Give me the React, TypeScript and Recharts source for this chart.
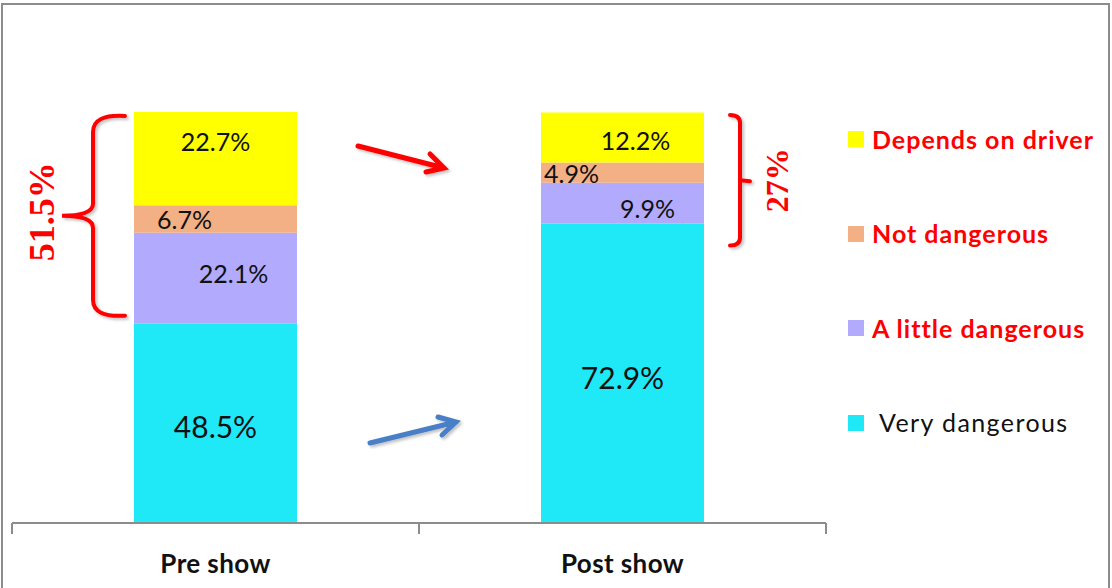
import { BarChart, Bar, XAxis, YAxis, Legend, LabelList } from "recharts";

const WIDTH = 1112;
const HEIGHT = 588;
const AXIS_HEIGHT = 30;
const MARGIN = { top: 112, right: 286, bottom: 35, left: 12 };

const stages = ["Pre show", "Post show"];
const veryDangerous = [48.5, 72.9];
const littleDangerous = [22.1, 9.9];
const notDangerous = [6.7, 4.9];
const dependsOnDriver = [22.7, 12.2];
const bracketTotals = ["51.5%", "27%"];

const series = [
  { key: "very", name: "Very dangerous", color: "#1fe8f7", values: veryDangerous, loud: false, size: 30 },
  { key: "little", name: "A little dangerous", color: "#b2aafc", values: littleDangerous, loud: true, size: 25 },
  { key: "not", name: "Not dangerous", color: "#f2b084", values: notDangerous, loud: true, size: 25 },
  { key: "depends", name: "Depends on driver", color: "#ffff00", values: dependsOnDriver, loud: true, size: 25 },
];

// small nudges so labels sit where they were placed by hand
const labelNudge: Record<string, [number, number][]> = {
  very: [[0, 3], [0, 4]],
  little: [[18, -5], [25, 5]],
  not: [[-31, 0], [-51, 0]],
  depends: [[0, -18], [13, 3]],
};

const data = stages.map((stage, i) => {
  const row: Record<string, string | number> = { stage };
  series.forEach((s) => (row[s.key] = s.values[i]));
  return row;
});

const plotWidth = WIDTH - MARGIN.left - MARGIN.right;
const plotHeight = HEIGHT - MARGIN.top - MARGIN.bottom - AXIS_HEIGHT;
const band = plotWidth / stages.length;
const yPx = (v: number) => MARGIN.top + plotHeight * (1 - v / 100);

const font = "Lato, 'Open Sans', sans-serif";

function makeLabel(key: string, size: number) {
  return (props: any) => {
    const { x, y, width, height, value, index } = props;
    const [dx, dy] = labelNudge[key][index] || [0, 0];
    return (
      <text
        x={Number(x) + Number(width) / 2 + dx}
        y={Number(y) + Number(height) / 2 + dy}
        textAnchor="middle"
        dominantBaseline="central"
        fontFamily={font}
        fontSize={size}
        fill="#111"
      >
        {`${value}%`}
      </text>
    );
  };
}

function StageTick(props: any) {
  const { x, y, payload, index } = props;
  const left = x - band / 2;
  return (
    <g>
      <line x1={left} y1={y} x2={left} y2={y + 11} stroke="#8c8c8c" strokeWidth={2} />
      {index === stages.length - 1 && (
        <line x1={x + band / 2} y1={y} x2={x + band / 2} y2={y + 11} stroke="#8c8c8c" strokeWidth={2} />
      )}
      <text
        x={x}
        y={y + 40}
        textAnchor="middle"
        dominantBaseline="central"
        fontFamily={font}
        fontWeight={700}
        fontSize={26}
        letterSpacing={0.4}
        fill="#111"
      >
        {payload.value}
      </text>
    </g>
  );
}

function LegendBlock() {
  const rows = [...series].reverse();
  return (
    <div style={{ display: "flex", flexDirection: "column" }}>
      {rows.map((s) => (
        <div key={s.key} style={{ height: 94.5, display: "flex", alignItems: "center" }}>
          <span style={{ width: 16, height: 16, background: s.color, marginRight: s.loud ? 8 : 15 }} />
          <span
            style={{
              fontFamily: font,
              fontSize: 25,
              letterSpacing: s.loud ? 1 : 1.4,
              fontWeight: s.loud ? 700 : 400,
              color: s.loud ? "#ff0000" : "#111",
              lineHeight: 1,
            }}
          >
            {s.name}
          </span>
        </div>
      ))}
    </div>
  );
}

function Annotations() {
  const leftTop = yPx(100) + 4;
  const leftBot = yPx(veryDangerous[0]) - 8;
  const leftMid = (leftTop + leftBot) / 2;
  const rightTop = yPx(100) + 3;
  const rightBot = yPx(veryDangerous[1]) + 22;
  const rightMid = (rightTop + rightBot) / 2;
  return (
    <svg
      width={WIDTH}
      height={HEIGHT}
      style={{ position: "absolute", left: 0, top: 0, pointerEvents: "none" }}
    >
      <defs>
        <filter id="soft" x="-20%" y="-20%" width="140%" height="140%">
          <feDropShadow dx="2" dy="2" stdDeviation="1.5" floodColor="#000" floodOpacity="0.25" />
        </filter>
      </defs>
      <g fill="none" stroke="#ff0000" strokeWidth={4} strokeLinecap="round" filter="url(#soft)">
        <path
          d={`M125,${leftTop} Q93,${leftTop - 2} 93,${leftTop + 16} L93,${leftMid - 12} Q93,${leftMid} 62,${leftMid}
              Q93,${leftMid} 93,${leftMid + 12} L93,${leftBot - 16} Q93,${leftBot + 2} 125,${leftBot}`}
        />
        <path
          d={`M730,${rightTop} Q740,${rightTop} 740,${rightTop + 8} L740,${rightBot - 8} Q740,${rightBot} 730,${rightBot}
              M740,${rightMid} L750,${rightMid + 1}`}
        />
        <path d="M358,146 L444,168 M430,154 L444,168 L426,172" strokeWidth={5} />
      </g>
      <g fill="none" stroke="#4a7fc6" strokeWidth={5} strokeLinecap="round" filter="url(#soft)">
        <path d="M370,443 L456,422 M438,417 L456,422 L442,435" />
      </g>
      <text
        transform={`translate(42, ${leftMid - 4}) rotate(-90)`}
        textAnchor="middle"
        dominantBaseline="central"
        fontFamily="'Liberation Serif', 'DejaVu Serif', serif"
        fontWeight={700}
        fontSize={36}
        fill="#ff0000"
      >
        {bracketTotals[0]}
      </text>
      <text
        transform={`translate(777, ${rightMid}) rotate(-90)`}
        textAnchor="middle"
        dominantBaseline="central"
        fontFamily="'Liberation Serif', 'DejaVu Serif', serif"
        fontWeight={700}
        fontSize={32}
        fill="#ff0000"
      >
        {bracketTotals[1]}
      </text>
    </svg>
  );
}

export default function App() {
  return (
    <div style={{ position: "absolute", left: 0, top: 0, width: WIDTH, height: HEIGHT, overflow: "hidden", background: "#fff" }}>
      <div
        style={{
          position: "absolute",
          left: 1,
          top: 3,
          width: WIDTH - 3,
          height: HEIGHT + 20,
          border: "2px solid #8c8c8c",
          boxSizing: "border-box",
        }}
      />
      <div style={{ position: "absolute", left: 0, top: 0 }}>
        <BarChart width={WIDTH} height={HEIGHT} data={data} margin={MARGIN} barSize={163}>
          <YAxis hide domain={[0, 100]} />
          <XAxis
            dataKey="stage"
            height={AXIS_HEIGHT}
            axisLine={{ stroke: "#8c8c8c", strokeWidth: 2 }}
            tickLine={false}
            tickSize={0}
            tickMargin={0}
            tick={<StageTick />}
            interval={0}
          />
          <Legend
            layout="horizontal"
            verticalAlign="middle"
            align="center"
            content={() => <LegendBlock />}
            wrapperStyle={{ left: 848, top: 92, width: 264 }}
          />
          {series.map((s) => (
            <Bar key={s.key} dataKey={s.key} name={s.name} stackId="a" fill={s.color} isAnimationActive={false}>
              <LabelList dataKey={s.key} content={makeLabel(s.key, s.size)} />
            </Bar>
          ))}
        </BarChart>
      </div>
      <Annotations />
    </div>
  );
}
